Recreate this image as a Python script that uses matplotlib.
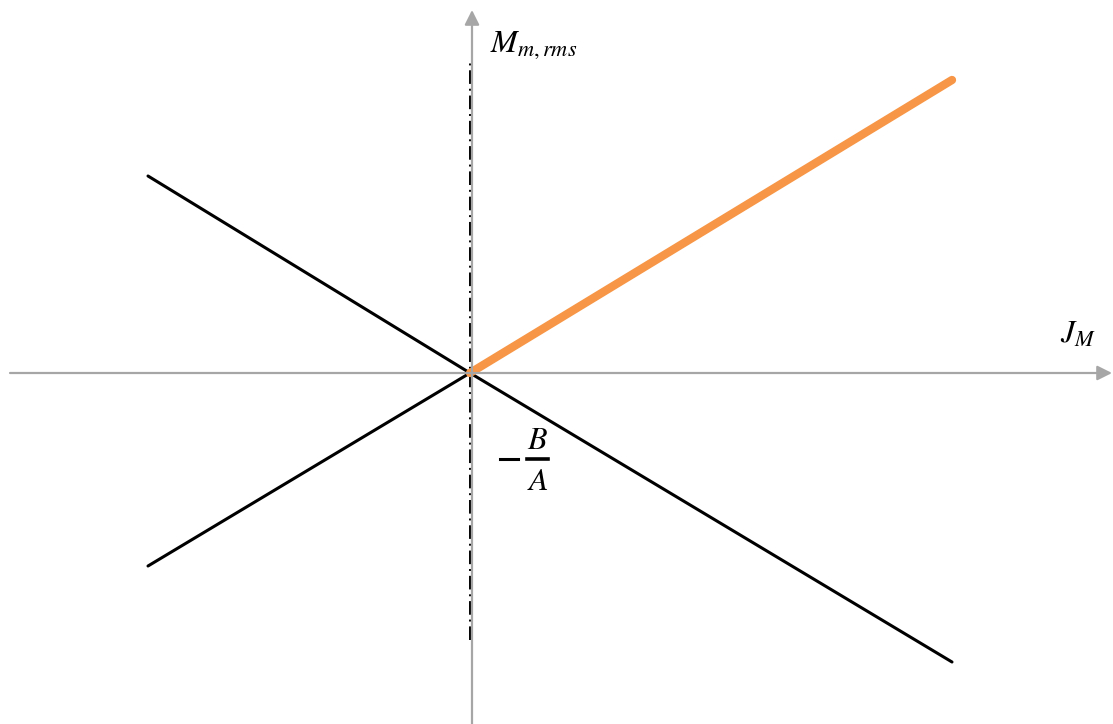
import matplotlib
matplotlib.use('Agg')
import matplotlib.pyplot as plt

plt.rcParams['mathtext.fontset'] = 'stix'

# line segments in chart units, all meeting at the origin
upper_left = ([-3.22, 0.0], [1.97, 0.0])
lower_left = ([-3.22, 0.0], [-1.93, 0.0])
lower_right = ([0.0, 4.82], [0.0, -2.89])
orange_branch = ([0.0, 4.82], [0.0, 2.93])

# axis extents and dashed marker at x = 0
x_axis = (-4.6, 6.42)
y_axis = (-3.51, 3.63)
dash_y = (-2.67, 3.13)

fig = plt.figure(figsize=(11.13, 7.24), dpi=100)
ax = fig.add_axes([0, 0, 1, 1])
ax.set_xlim(-4.70, 6.43)
ax.set_ylim(-3.51, 3.73)
ax.axis('off')

grey = '#a6a6a6'
arrow = dict(arrowstyle='-|>', color=grey, lw=1.6, mutation_scale=22,
             shrinkA=0, shrinkB=0)
ax.annotate('', xy=(x_axis[1], 0), xytext=(x_axis[0], 0), arrowprops=arrow)
ax.annotate('', xy=(0.02, y_axis[1]), xytext=(0.02, y_axis[0]), arrowprops=arrow)

ax.plot([0, 0], dash_y, color='black', lw=1.4, linestyle=(0, (7, 2.5, 1, 2.5)))

for xs, ys in (upper_left, lower_left, lower_right):
    ax.plot(xs, ys, color='black', lw=2.2, solid_capstyle='round')
ax.plot(*orange_branch, color='#f79646', lw=6, solid_capstyle='round')

ax.text(0.20, 3.21, r'$M_{m,rms}$', fontsize=23, ha='left', va='baseline')
ax.text(5.90, 0.30, r'$J_M$', fontsize=23, ha='left', va='baseline')

# -B/A label written as minus sign, numerator, bar and denominator
ax.plot([0.30, 0.48], [-0.86, -0.86], color='black', lw=2.2)
ax.plot([0.57, 0.78], [-0.86, -0.86], color='black', lw=2.6)
ax.text(0.675, -0.76, r'$B$', fontsize=23, ha='center', va='baseline')
ax.text(0.675, -1.17, r'$A$', fontsize=23, ha='center', va='baseline')

fig.savefig('out.png', dpi=100)
